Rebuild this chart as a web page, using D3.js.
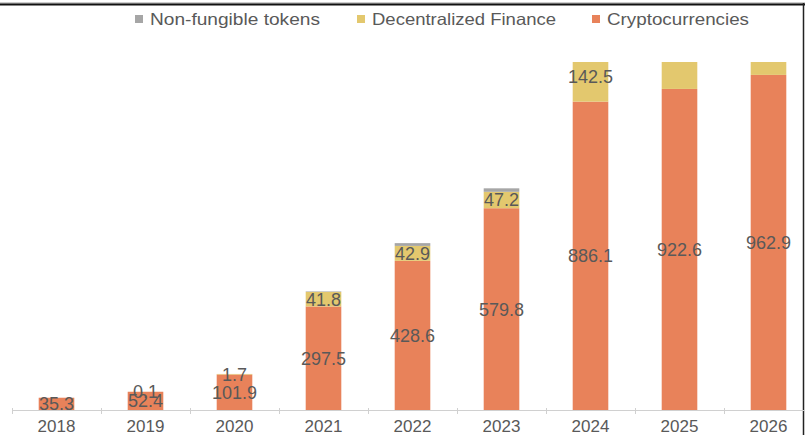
<!DOCTYPE html>
<html>
<head>
<meta charset="utf-8">
<script src="https://cdn.jsdelivr.net/npm/d3@7"></script>
<style>
  html, body { margin: 0; padding: 0; background: #fff; }
  svg { display: block; font-family: "Liberation Sans", Arial, sans-serif; }
</style>
</head>
<body>
<svg id="chart" width="805" height="435"></svg>
<script>
// Market size by segment (stacked), per year
const years = ["2018", "2019", "2020", "2021", "2022", "2023", "2024", "2025", "2026"];
const cryptocurrencies = [35.3, 52.4, 101.9, 297.5, 428.6, 579.8, 886.1, 922.6, 962.9];
const decentralizedFinance = [0, 0.1, 1.7, 41.8, 42.9, 47.2, 142.5, 160, 175];
const nonFungibleTokens = [0, 0, 0, 1.5, 8, 10, 12, 14, 16];

const seriesNames = ["Cryptocurrencies", "Decentralized Finance", "Non-fungible tokens"];
const seriesColors = ["#e8825a", "#e3c86e", "#a6a6a6"];
const legendOrder = ["Non-fungible tokens", "Decentralized Finance", "Cryptocurrencies"];
const labelledSeries = ["Cryptocurrencies", "Decentralized Finance"];

const rows = years.map((y, i) => ({
  year: y,
  "Cryptocurrencies": cryptocurrencies[i],
  "Decentralized Finance": decentralizedFinance[i],
  "Non-fungible tokens": nonFungibleTokens[i]
}));

const svg = d3.select("#chart");
const W = 805, H = 435;
const plotTop = 62, plotBottom = 410;

const x = d3.scaleBand().domain(years).range([12, 813]).paddingInner(0.6).paddingOuter(0.3);
const y = d3.scaleLinear().domain([0, 1000]).range([plotBottom, plotTop]);
const color = d3.scaleOrdinal().domain(seriesNames).range(seriesColors);

const stacked = d3.stack().keys(seriesNames)(rows);

// clip bars to the plot area
svg.append("defs").append("clipPath").attr("id", "plotClip")
  .append("rect").attr("x", 0).attr("y", plotTop).attr("width", W).attr("height", plotBottom - plotTop);

// top frame lines
svg.append("line").attr("x1", 0).attr("x2", W).attr("y1", 3).attr("y2", 3)
  .attr("stroke", "#9a9a9a").attr("stroke-width", 1);
svg.append("line").attr("x1", 0).attr("x2", W).attr("y1", 4.5).attr("y2", 4.5)
  .attr("stroke", "#111").attr("stroke-width", 2);
svg.append("line").attr("x1", 803.5).attr("x2", 803.5).attr("y1", 3).attr("y2", H)
  .attr("stroke", "#222").attr("stroke-width", 1.5);

// category axis
const step = x.step();
const boundaries = years.map(d => x(d) - step * x.paddingInner() / 2);
const axisG = svg.append("g");
axisG.append("line").attr("x1", boundaries[0]).attr("x2", W)
  .attr("y1", plotBottom + 0.5).attr("y2", plotBottom + 0.5)
  .attr("stroke", "#d0d0d0").attr("stroke-width", 1);
axisG.selectAll("line.tick").data(boundaries).join("line")
  .attr("class", "tick")
  .attr("x1", d => Math.round(d) + 0.5).attr("x2", d => Math.round(d) + 0.5)
  .attr("y1", plotBottom - 2).attr("y2", plotBottom + 4)
  .attr("stroke", "#d0d0d0");
axisG.selectAll("text").data(years).join("text")
  .attr("x", d => x(d) + x.bandwidth() / 2)
  .attr("y", 432)
  .attr("text-anchor", "middle")
  .attr("font-size", 17)
  .attr("fill", "#595959")
  .text(d => d);

// bars
const barsG = svg.append("g").attr("clip-path", "url(#plotClip)");
barsG.selectAll("g").data(stacked).join("g")
  .attr("fill", d => color(d.key))
  .selectAll("rect").data(d => d).join("rect")
  .attr("x", d => x(d.data.year))
  .attr("width", x.bandwidth())
  .attr("y", d => y(d[1]))
  .attr("height", d => Math.max(0, y(d[0]) - y(d[1])));

// value labels, centred in each segment
const labels = [];
stacked.filter(s => labelledSeries.includes(s.key)).forEach(s => {
  s.forEach(d => {
    const v = d.data[s.key];
    const cy = (y(d[0]) + y(d[1])) / 2;
    if (v > 0 && cy >= plotTop) labels.push({ year: d.data.year, v, cy });
  });
});
svg.append("g").selectAll("text").data(labels).join("text")
  .attr("x", d => x(d.year) + x.bandwidth() / 2)
  .attr("y", d => d.cy)
  .attr("dy", "0.36em")
  .attr("text-anchor", "middle")
  .attr("font-size", 18)
  .attr("fill", "#595959")
  .text(d => d3.format(".1f")(d.v));

// legend
const legendX = { "Non-fungible tokens": 135, "Decentralized Finance": 357, "Cryptocurrencies": 592 };
const legendW = { "Non-fungible tokens": 170, "Decentralized Finance": 184, "Cryptocurrencies": 142 };
const lg = svg.append("g").selectAll("g").data(legendOrder).join("g")
  .attr("transform", d => `translate(${legendX[d]},0)`);
lg.append("rect").attr("x", 0).attr("y", 15).attr("width", 8).attr("height", 8)
  .attr("fill", d => color(d));
lg.append("text").attr("x", 15).attr("y", 25)
  .attr("font-size", 16.5)
  .attr("fill", "#595959")
  .attr("textLength", d => legendW[d])
  .attr("lengthAdjust", "spacingAndGlyphs")
  .text(d => d);
</script>
</body>
</html>
